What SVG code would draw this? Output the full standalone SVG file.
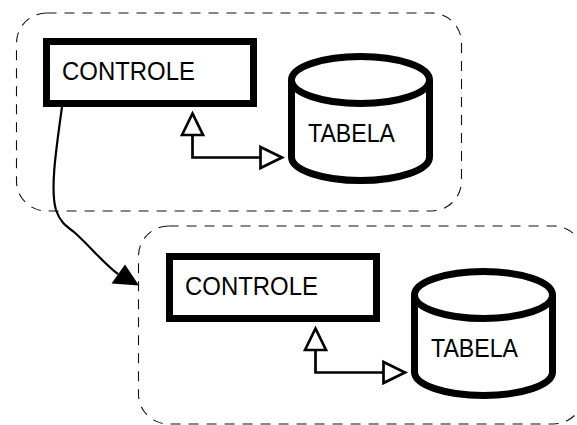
<svg xmlns="http://www.w3.org/2000/svg" width="577" height="425" viewBox="0 0 577 425">
<style>
.cont{fill:none;stroke:#111;stroke-width:1.1;stroke-dasharray:10 8}
.box{fill:#fff;stroke:#000;stroke-width:7}
.lbl{font-family:"Liberation Sans",Arial,Helvetica,sans-serif;font-size:25px;fill:#000}
.link{fill:none;stroke:#000;stroke-width:2.7}
.flow{fill:none;stroke:#000;stroke-width:2.2}
</style>
<defs>
<marker id="hollow" markerUnits="userSpaceOnUse" viewBox="-3 -13 28 26" markerWidth="28" markerHeight="26" refX="0" refY="0" orient="auto-start-reverse" overflow="visible">
<path d="M0,-10.5 L21.5,0 L0,10.5 Z" fill="#fff" stroke="#000" stroke-width="2.7" stroke-linejoin="miter"/>
</marker>
</defs>
<g id="container1"><rect class="cont" x="16.5" y="13" width="445" height="198" rx="30" ry="30"/></g>
<g id="container2"><rect class="cont" x="138.5" y="226" width="445" height="198" rx="30" ry="30"/></g>
<g id="connectors">
<path class="link" d="M192.5,135 V157.5 H260.5" marker-start="url(#hollow)" marker-end="url(#hollow)"/>
<path class="link" d="M315.5,350 V372.5 H383.5" marker-start="url(#hollow)" marker-end="url(#hollow)"/>
<path class="flow" d="M62,107 C56,150 50,190 56,210 C60,222 66,226 74,232 C90,246 104,264 118,274"/>
<polygon points="139,285.5 111.5,283.5 125,264.5" fill="#000"/>
</g>
<g id="controle1">
<rect class="box" x="46.5" y="41.5" width="207" height="62"/>
<text class="lbl" x="62" y="80" textLength="133" lengthAdjust="spacingAndGlyphs">CONTROLE</text>
</g>
<g id="tabela1">
<path class="box" d="M291.5,80 A69,23.5 0 0 1 429.5,80 L429.5,157 A69,23.5 0 0 1 291.5,157 Z"/>
<path class="box" fill="none" d="M291.5,80 A69,23.5 0 0 0 429.5,80"/>
<text class="lbl" x="308" y="142" textLength="87" lengthAdjust="spacingAndGlyphs">TABELA</text>
</g>
<g id="controle2">
<rect class="box" x="169.5" y="256.5" width="207" height="62"/>
<text class="lbl" x="185" y="295" textLength="133" lengthAdjust="spacingAndGlyphs">CONTROLE</text>
</g>
<g id="tabela2">
<path class="box" d="M414.5,295 A69,23.5 0 0 1 552.5,295 L552.5,372 A69,23.5 0 0 1 414.5,372 Z"/>
<path class="box" fill="none" d="M414.5,295 A69,23.5 0 0 0 552.5,295"/>
<text class="lbl" x="431" y="357" textLength="87" lengthAdjust="spacingAndGlyphs">TABELA</text>
</g>
</svg>
